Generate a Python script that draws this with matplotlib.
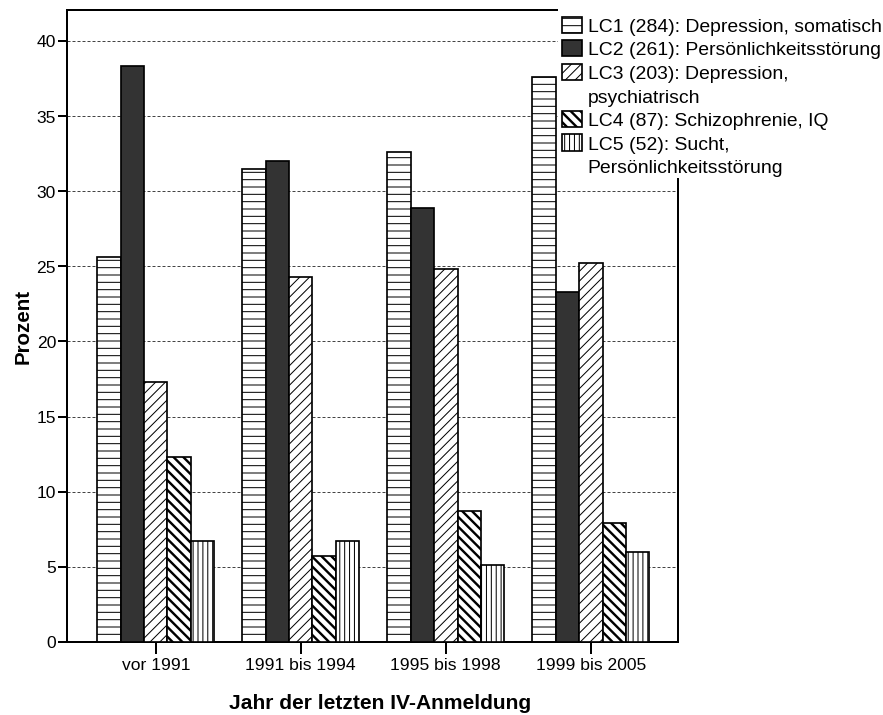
# Bar chart: latent classes by year of last IV registration
import matplotlib.pyplot as plt
from matplotlib.patches import Rectangle
import numpy as np

plt.rcParams['font.family'] = ['Liberation Sans', 'DejaVu Sans']

# Data
years = ["vor 1991", "1991 bis 1994", "1995 bis 1998", "1999 bis 2005"]
classes = ["LC1 (284): Depression, somatisch",
           "LC2 (261): Persönlichkeitsstörung",
           "LC3 (203): Depression,\npsychiatrisch",
           "LC4 (87): Schizophrenie, IQ",
           "LC5 (52): Sucht,\nPersönlichkeitsstörung"]
lc1 = [25.6, 31.5, 32.6, 37.6]
lc2 = [38.3, 32.0, 28.9, 23.3]
lc3 = [17.3, 24.3, 24.8, 25.2]
lc4 = [12.3, 5.7, 8.7, 7.9]
lc5 = [6.7, 6.7, 5.1, 6.0]
values = [lc1, lc2, lc3, lc4, lc5]

# Styles per class: (facecolor, hatch, hatch width in px)
styles = [("white", "--", 1.0), ("#333333", None, 1.0), ("white", "///", 1.0),
          ("white", "\\\\\\", 2.4), ("white", "|||", 1.0)]

# dpi 88.3 so the hatch spacing comes out like the original
DPI = 88.3


def px(p):
    # pixels -> points
    return p * 72 / DPI


fig = plt.figure(figsize=(883 / DPI, 715.5 / DPI), dpi=DPI)
ax = fig.add_axes([67 / 883, 73 / 715, 611 / 883, 632 / 715])

x = np.arange(len(years))
w = 0.1614
containers = []
for i, (vals, (fc, hatch, hw)) in enumerate(zip(values, styles)):
    plt.rcParams['hatch.linewidth'] = px(hw)
    bc = ax.bar(x + (i - 2) * w, vals, w, color=fc, hatch=hatch,
                edgecolor="black", linewidth=px(1.7), zorder=3)
    containers.append(bc)
plt.rcParams['hatch.linewidth'] = px(1.0)

ax.set_xlim(-0.612, 3.601)
ax.set_ylim(0, 42.09)
ax.set_yticks(range(0, 45, 5))
ax.set_xticks(x)
ax.set_xticklabels(years, fontsize=px(17.5))
ax.tick_params(axis="y", labelsize=px(17.5), length=px(9), width=px(2), pad=px(2))
ax.tick_params(axis="x", length=px(12), width=px(2), pad=px(4))
ax.yaxis.grid(True, linestyle=(0, (3, 2)), color="#444444", linewidth=px(1), zorder=0)
ax.set_axisbelow(True)
for s in ax.spines.values():
    s.set_linewidth(px(2))

ax.set_ylabel("Prozent", fontsize=px(20.5), fontweight="bold", labelpad=px(4))
ax.set_xlabel("Jahr der letzten IV-Anmeldung", fontsize=px(21), fontweight="bold")
ax.xaxis.set_label_coords(0.512, -0.082)

# white area behind the legend (hides spine and grid there)
fig.add_artist(Rectangle((558 / 883, (715 - 178) / 715), 325 / 883, 178 / 715,
                         transform=fig.transFigure, facecolor="white",
                         edgecolor="none", zorder=5))

# legend: wrapped labels get extra rows without a handle
handles, labels = [], []
for bc, lab in zip(containers, classes):
    lines = lab.split("\n")
    handles.append(bc)
    labels.append(lines[0])
    for extra in lines[1:]:
        handles.append(Rectangle((0, 0), 1, 1, visible=False))
        labels.append(extra)

leg = fig.legend(handles, labels, loc="upper left",
                 bbox_to_anchor=(562 / 883, (715 - 17) / 715), frameon=False,
                 fontsize=px(19.4), handlelength=1.03, handleheight=0.9,
                 handletextpad=0.3, labelspacing=0.25, borderpad=0,
                 borderaxespad=0)
leg.set_zorder(10)
real = [h for h in leg.legend_handles if h.get_visible()]
for h, (fc, hatch, hw) in zip(real, styles):
    h.set_linewidth(px(1.7))
    if hasattr(h, "set_hatch_linewidth"):
        h.set_hatch_linewidth(px(hw))
    else:
        h._hatch_linewidth = px(hw)

plt.savefig("out.png", dpi=DPI)
